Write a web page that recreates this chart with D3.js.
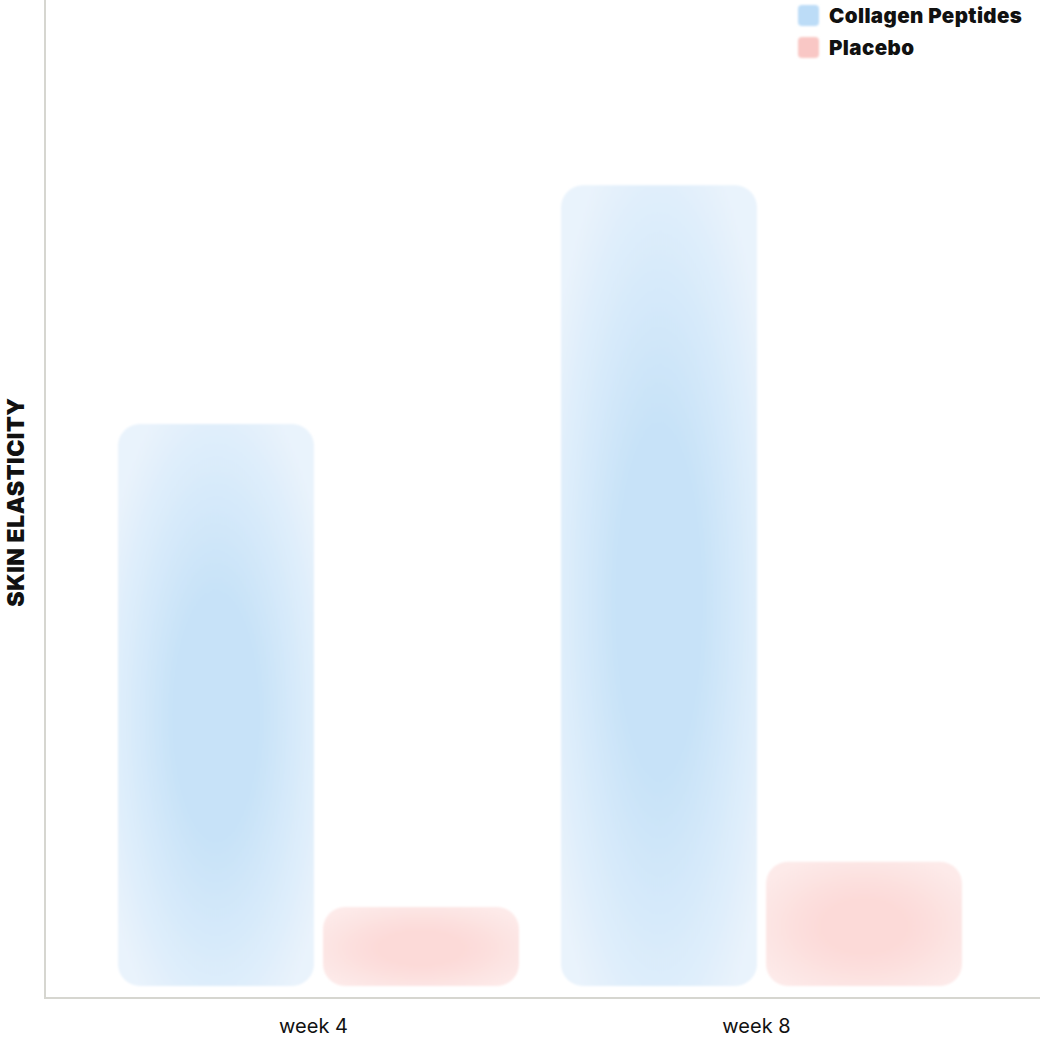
<!DOCTYPE html>
<html><head><meta charset="utf-8">
<script src="https://cdn.jsdelivr.net/npm/d3@7/dist/d3.min.js"></script>
<style>body{margin:0;background:#fff}</style>
</head><body>
<svg id="c" width="1040" height="1040"></svg>
<script>
const categories = ["week 4", "week 8"];
const seriesNames = ["Collagen Peptides", "Placebo"];
const collagen = [57, 81.2];
const placebo = [8, 12.6];

const svg = d3.select("#c");
const font = "Inter, 'Noto Sans', sans-serif";
const x0 = d3.scaleBand().domain(categories).range([97, 983]).paddingInner(0).paddingOuter(0);
const x1 = d3.scaleBand().domain(seriesNames).range([21, x0.bandwidth() - 21]).paddingInner(0.044).paddingOuter(0);
const y = d3.scaleLinear().domain([0, 100]).range([986, 0]);

const defs = svg.append("defs");
const pal = {"Collagen Peptides": ["#c7e2f8", "#e9f3fc"], "Placebo": ["#fcdad8", "#fdeae9"]};
seriesNames.forEach((s, i) => {
  const g = defs.append("radialGradient").attr("id", "g" + i).attr("cx", "0.5").attr("cy", "0.52").attr("r", "0.62");
  g.append("stop").attr("offset", "0%").attr("stop-color", pal[s][0]);
  g.append("stop").attr("offset", "35%").attr("stop-color", pal[s][0]);
  g.append("stop").attr("offset", "100%").attr("stop-color", pal[s][1]);
});
const f = defs.append("filter").attr("id", "blur");
f.append("feGaussianBlur").attr("stdDeviation", 1.2);

svg.append("line").attr("x1", 45).attr("x2", 45).attr("y1", 0).attr("y2", 998).attr("stroke", "#d6d6d0").attr("stroke-width", 2);
svg.append("line").attr("x1", 44).attr("x2", 1040).attr("y1", 998).attr("y2", 998).attr("stroke", "#d6d6d0").attr("stroke-width", 2);

const data = categories.map((c, i) => ({c, vals: [collagen[i], placebo[i]]}));
const grp = svg.selectAll("g.cat").data(data).join("g").attr("transform", d => `translate(${x0(d.c)},0)`);
grp.selectAll("rect").data(d => d.vals.map((v, i) => ({s: seriesNames[i], v, i}))).join("rect")
  .attr("x", d => x1(d.s)).attr("width", x1.bandwidth())
  .attr("y", d => y(d.v)).attr("height", d => y(0) - y(d.v))
  .attr("rx", 22).attr("fill", d => `url(#g${d.i})`).attr("filter", "url(#blur)");

svg.selectAll("text.xl").data(categories).join("text")
  .attr("x", d => x0(d) + x0.bandwidth() / 2 - 5).attr("y", 1033)
  .attr("text-anchor", "middle").attr("font-family", font).attr("font-size", 20).attr("fill", "#111").text(d => d);

svg.append("text").attr("transform", "translate(24,502) rotate(-90)").attr("text-anchor", "middle")
  .attr("font-family", font).attr("font-weight", 900).attr("font-size", 23).attr("letter-spacing", 0.5).attr("fill", "#111").text("SKIN ELASTICITY");

const lg = svg.selectAll("g.lg").data(seriesNames).join("g").attr("transform", (d, i) => `translate(798,${5 + i * 32})`);
lg.append("rect").attr("width", 21).attr("height", 21).attr("rx", 4).attr("fill", (d, i) => d === "Placebo" ? "#f9c7c5" : "#bcdcf7").attr("filter", "url(#blur)");
lg.append("text").attr("x", 31).attr("y", 18).attr("font-family", font).attr("font-weight", 900).attr("font-size", 20.5).attr("letter-spacing", 0.4).attr("fill", "#111").text(d => d);
</script>
</body></html>
